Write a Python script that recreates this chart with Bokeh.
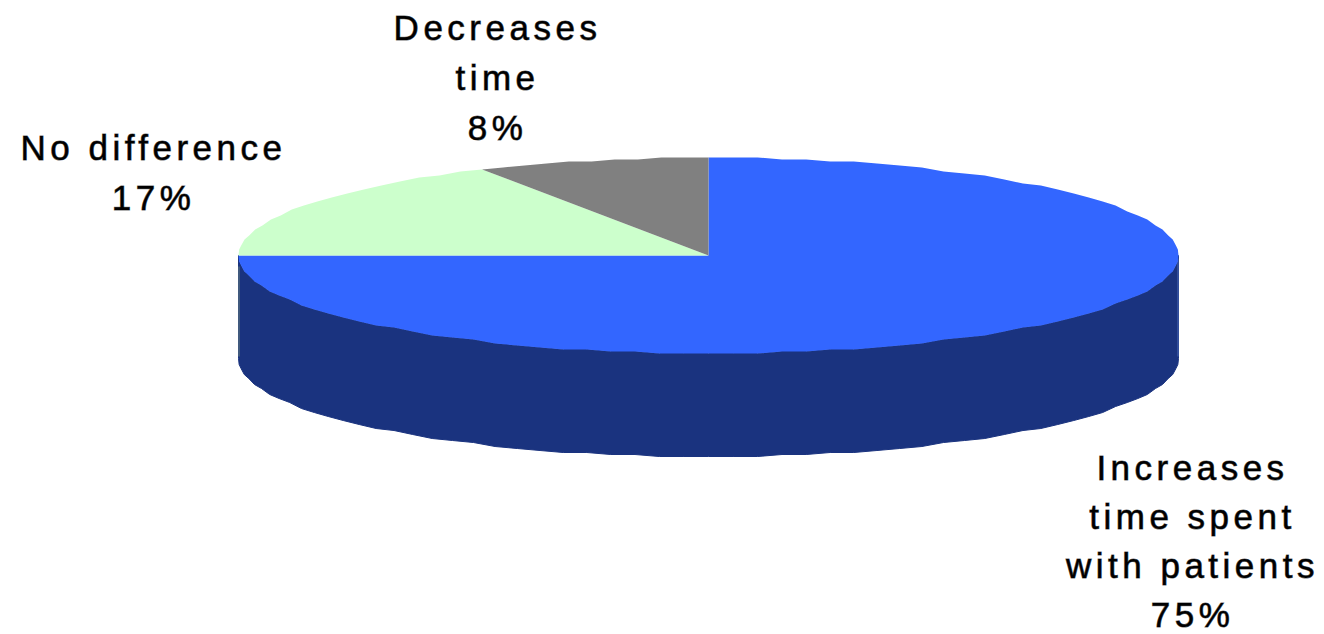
import numpy as np
from bokeh.core.properties import value
from bokeh.embed import file_html
from bokeh.plotting import figure
from bokeh.resources import INLINE

# Survey answers, clockwise from twelve o'clock
categories = ["Increases time spent with patients", "No difference", "Decreases time"]
shares = [75, 17, 8]
top_colors = ["#3366FF", "#CCFFCC", "#808080"]
wall_color = "#1A337F"
wall_edge_colors = ["#4A6AB8", "#66807F"]

label_lines = [
    ["Increases", "time spent", "with patients"],
    ["No difference"],
    ["Decreases", "time"],
]
label_centers = [(1192, 467), (153, 147), (497, 27)]
line_gaps = [49, 50, 50]
tracking = 4.5

# Tilted disc geometry in page pixels
cx, cy = 708, 255
rx, ry = 470, 98
depth = 103
step_deg = 3.0
snap_y = 2


def rim(start_deg, end_deg, drop=0.0):
    """Points on the ellipse edge; angles run clockwise from the top."""
    n = max(2, int(round((end_deg - start_deg) / step_deg)) + 1)
    a = np.radians(np.linspace(start_deg, end_deg, n))
    xs = cx + rx * np.sin(a)
    ys = -ry * np.cos(a)
    ys = cy + np.round(ys / snap_y) * snap_y + drop
    return xs, ys


p = figure(
    width=1324, height=634, x_range=(0, 1324), y_range=(634, 0),
    output_backend="svg", toolbar_location=None, min_border=0,
    outline_line_color=None, background_fill_color="white",
)
p.axis.visible = False
p.grid.visible = False
p.styles = {"letter-spacing": f"{tracking}px"}

# Cylinder wall: the front half of the rim swept downwards
tx, ty = rim(90, 270)
bx, by = rim(90, 270, depth)
p.patch(np.r_[tx, bx[::-1]], np.r_[ty, by[::-1]], fill_color=wall_color, line_color=wall_color, line_width=1)

# Thin light seams down both ends of the wall
p.segment(
    [tx[0] - 0.5, tx[-1] + 0.5], [ty[0] + 3, ty[-1] + 11],
    [tx[0] - 0.5, tx[-1] + 0.5], [by[0] - 2, by[-1] - 2],
    line_color=wall_edge_colors, line_width=1,
)

# Top face wedges
edges = np.cumsum([0] + shares) / sum(shares) * 360
for i, color in enumerate(top_colors):
    xs, ys = rim(edges[i], edges[i + 1])
    p.patch(np.r_[cx, xs], np.r_[cy, ys], fill_color=color, line_color=None)

# Labels: wrapped category text followed by the share.
# Tracking widens each line past its measured width, so pull it back by half.
lx, ly, lt = [], [], []
for lines, (x0, y0), gap, share in zip(label_lines, label_centers, line_gaps, shares):
    for k, text in enumerate(lines + [f"{share}%"]):
        lx.append(x0 - len(text) * tracking / 2)
        ly.append(y0 + k * gap)
        lt.append(text)
p.text(
    lx, ly, text=lt, text_font=value("Liberation Sans"), text_font_size="35px",
    text_color="black", text_outline_color="#00000099", text_align="center", text_baseline="middle",
)

open("out.html", "w").write(file_html(p, INLINE))
